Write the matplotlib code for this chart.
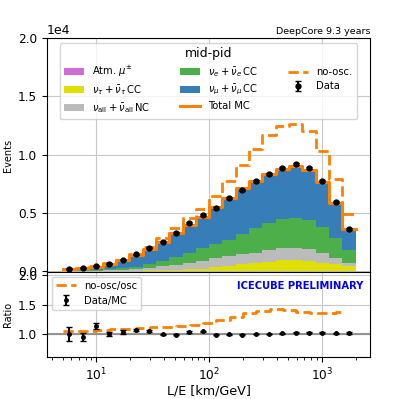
import numpy as np
import matplotlib
matplotlib.use("Agg")
import matplotlib.pyplot as plt

# L/E binning (22 log bins)
edges = np.logspace(0.7, 3.3, 23)
centers = np.sqrt(edges[:-1] * edges[1:])

# stacked MC components (events per bin)
atm_mu = [0, 0, 0, 0, 0, 0, 2, 4, 6, 10, 15, 25, 30, 30, 20, 12, 8, 5, 4, 3, 2, 1]
nutau_cc = [2, 3, 5, 8, 12, 20, 48, 76, 104, 140, 185, 315, 400, 540, 690, 788, 902, 935, 851, 707, 568, 429]
nu_nc = [3, 7, 20, 37, 68, 140, 190, 320, 430, 550, 655, 800, 850, 850, 850, 970, 1030, 1050, 1055, 850, 570, 280]
nue_cc = [15, 30, 55, 95, 170, 220, 340, 450, 660, 850, 1085, 1140, 1400, 1770, 2140, 2310, 2530, 2600, 2450, 2230, 1710, 1090]
total_mc = [200, 274, 382, 626, 913, 1362, 1914, 2525, 3299, 3981, 4615, 5482, 6303, 7122, 7759, 8332, 8786, 9034, 8700, 7606, 5842, 3584]
no_osc = [210, 285, 400, 665, 980, 1480, 2100, 2830, 3680, 4540, 5330, 6450, 7740, 9110, 10480, 11640, 12440, 12660, 11980, 10320, 7910, 4900]

data = [200, 260, 430, 620, 940, 1450, 2000, 2500, 3250, 4100, 4800, 5400, 6240, 6980, 7720, 8290, 8830, 9170, 8830, 7720, 5900, 3620]
ratio_err = [0.12, 0.07, 0.05, 0.035, 0.03, 0.02, 0.015, 0.012, 0.01, 0.01, 0.01, 0.009, 0.008, 0.008, 0.008, 0.008, 0.008, 0.008, 0.008, 0.008, 0.009, 0.012]

numu_cc = np.array(total_mc) - np.array(atm_mu) - np.array(nutau_cc) - np.array(nu_nc) - np.array(nue_cc)
data_ratio = np.array(data) / np.array(total_mc)
noosc_ratio = np.array(no_osc) / np.array(total_mc)

orange = "#ff7f00"
colors = ["#d46ad8", "#e0e000", "#bbbbbb", "#4daf4a", "#377eb8"]
labels = [r"Atm. $\mu^{\pm}$", r"$\nu_\tau+\bar{\nu}_\tau\,$CC", r"$\nu_{\rm all}+\bar{\nu}_{\rm all}\,$NC",
          r"$\nu_e+\bar{\nu}_e\,$CC", r"$\nu_\mu+\bar{\nu}_\mu\,$CC"]

fig = plt.figure(figsize=(3.95, 3.99), dpi=100)
ax = fig.add_axes([0.119, 0.318, 0.818, 0.5865])
axr = fig.add_axes([0.119, 0.1053, 0.818, 0.213], sharex=ax)

comps = [atm_mu, nutau_cc, nu_nc, nue_cc, numu_cc]
ax.hist([centers] * 5, bins=edges, weights=comps, stacked=True, color=colors, label=labels)
ax.step(edges, np.append(total_mc, total_mc[-1]), where="post", color=orange, lw=2.2, label="Total MC")
ax.step(edges, np.append(no_osc, no_osc[-1]), where="post", color=orange, lw=2, ls="--", label="no-osc.")
ax.errorbar(centers, data, yerr=np.sqrt(data), fmt="o", color="k", ms=3.5, capsize=2, label="Data")

ax.set_xscale("log")
ax.set_xlim(3.64, 2680)
ax.set_ylim(-100, 20000)
ax.set_yticks([0, 5000, 10000, 15000, 20000])
ax.ticklabel_format(axis="y", style="sci", scilimits=(4, 4))
ax.yaxis.get_offset_text().set_fontsize(9)
ax.grid(True, color="#c8c8c8", lw=0.8)
ax.set_axisbelow(True)
ax.tick_params(labelsize=8.7)
ax.tick_params(axis="x", labelbottom=False)
ax.set_ylabel("Events", fontsize=7)
ax.text(1.0, 1.01, "DeepCore 9.3 years", transform=ax.transAxes, ha="right", va="bottom", fontsize=6.8)

h, l = ax.get_legend_handles_labels()
order = [l.index(s) for s in [labels[0], labels[1], labels[2], labels[3], labels[4], "Total MC", "no-osc.", "Data"]]
ax.legend([h[i] for i in order], [l[i] for i in order], ncol=3, loc="upper center",
          title="mid-pid", title_fontsize=9, fontsize=7.2, framealpha=0.8, columnspacing=3.0,
          labelspacing=0.4)

axr.axhline(1.0, color="gray", lw=1.5, alpha=0.8)
axr.step(edges[:-1], noosc_ratio, where="mid", color=orange, lw=2, ls="--", label="no-osc/osc")
axr.errorbar(centers, data_ratio, yerr=ratio_err, fmt="o", color="k", ms=2.5, capsize=2, label="Data/MC")
axr.set_ylim(0.6, 2.06)
axr.set_yticks([1.0, 1.5, 2.0])
axr.grid(True, color="#c8c8c8", lw=0.8)
axr.tick_params(labelsize=8.7)
axr.set_ylabel("Ratio", fontsize=7)
axr.set_xlabel("L/E [km/GeV]", fontsize=9.2, labelpad=1)
axr.legend(loc="upper left", fontsize=7.2)
axr.text(0.98, 0.84, "ICECUBE PRELIMINARY", transform=axr.transAxes, ha="right", va="center",
         fontsize=7.2, fontweight="bold", color="blue")

fig.savefig("out.png", dpi=100)
